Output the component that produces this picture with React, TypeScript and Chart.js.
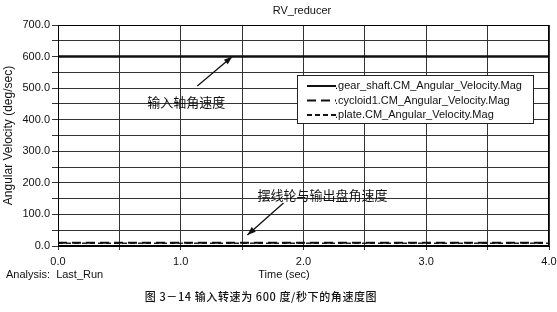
import React, { useEffect, useRef } from "react";
import { Chart, registerables } from "chart.js";

Chart.register(...registerables);

const times = [0, 0.5, 1.0, 1.5, 2.0, 2.5, 3.0, 3.5, 4.0];
const gearShaft = [600, 600, 600, 600, 600, 600, 600, 600, 600];
const cycloid1 = [10, 10, 10, 10, 10, 10, 10, 10, 10];
const plate = [9, 9, 9, 9, 9, 9, 9, 9, 9];
const seriesLabels = [
  ".gear_shaft.CM_Angular_Velocity.Mag",
  ".cycloid1.CM_Angular_Velocity.Mag",
  ".plate.CM_Angular_Velocity.Mag",
];
const chartTitle = "RV_reducer";
const xTitle = "Time (sec)";
const yTitle = "Angular Velocity (deg/sec)";
const analysisText = "Analysis:  Last_Run";
const caption = "图 3－14 输入转速为 600 度/秒下的角速度图";
const annoLabels = ["输入轴角速度", "摆线轮与输出盘角速度"];
const annoText = [
  [1.045, 456],
  [2.155, 161],
];
const annoArrows = [
  [1.135, 507, 1.42, 600],
  [1.837, 136, 1.543, 35],
];

const SANS = '"Liberation Sans", Arial, sans-serif';
const CJK = '"Noto Sans CJK SC", sans-serif';

const overlay = {
  id: "overlay",
  afterDraw(chart: any) {
    const ctx = chart.ctx as CanvasRenderingContext2D;
    const xs = chart.scales.x;
    const ys = chart.scales.y;
    const ca = chart.chartArea;
    ctx.save();
    ctx.strokeStyle = "#000";
    ctx.lineWidth = 1;
    ctx.strokeRect(ca.left + 0.5, ca.top + 0.5, ca.right - ca.left - 1, ca.bottom - ca.top - 1);

    ctx.fillStyle = "#111";
    ctx.font = `11px ${SANS}`;
    ctx.textAlign = "center";
    ctx.textBaseline = "middle";
    ctx.fillText(chartTitle, 302, 11);
    ctx.fillText(xTitle, 284, 275);
    ctx.textAlign = "left";
    ctx.fillText(analysisText, 6, 275);

    ctx.font = `500 11px ${CJK}`;
    (ctx as any).letterSpacing = "0.6px";
    ctx.textAlign = "center";
    ctx.fillText(caption, 261, 297);
    (ctx as any).letterSpacing = "0px";

    ctx.font = `13px ${CJK}`;
    ctx.fillStyle = "#111";
    annoLabels.forEach((t, i) => {
      const px = xs.getPixelForValue(annoText[i][0]);
      const py = ys.getPixelForValue(annoText[i][1]);
      ctx.fillText(t, px, py);
    });
    ctx.strokeStyle = "#111";
    ctx.lineWidth = 1.3;
    annoArrows.forEach((a) => {
      const x1 = xs.getPixelForValue(a[0]);
      const y1 = ys.getPixelForValue(a[1]);
      const x2 = xs.getPixelForValue(a[2]);
      const y2 = ys.getPixelForValue(a[3]);
      ctx.beginPath();
      ctx.moveTo(x1, y1);
      ctx.lineTo(x2, y2);
      ctx.stroke();
      const ang = Math.atan2(y2 - y1, x2 - x1);
      const L = 9;
      const W = 0.35;
      ctx.beginPath();
      ctx.moveTo(x2, y2);
      ctx.lineTo(x2 - L * Math.cos(ang - W), y2 - L * Math.sin(ang - W));
      ctx.lineTo(x2 - L * Math.cos(ang + W), y2 - L * Math.sin(ang + W));
      ctx.closePath();
      ctx.fillStyle = "#111";
      ctx.fill();
    });

    const lx = 297, ly = 75, lw = 236, lh = 48;
    ctx.fillStyle = "#fff";
    ctx.fillRect(lx, ly, lw, lh);
    ctx.strokeStyle = "#222";
    ctx.lineWidth = 1;
    ctx.strokeRect(lx + 0.5, ly + 0.5, lw, lh);
    ctx.font = `11px ${SANS}`;
    ctx.textAlign = "left";
    chart.data.datasets.forEach((ds: any, i: number) => {
      const ry = ly + 11 + i * 14.5;
      ctx.strokeStyle = "#111";
      ctx.lineWidth = 2;
      ctx.setLineDash(ds.borderDash || []);
      ctx.beginPath();
      ctx.moveTo(307, ry);
      ctx.lineTo(336, ry);
      ctx.stroke();
      ctx.setLineDash([]);
      ctx.fillStyle = "#111";
      ctx.fillText(ds.label, 335, ry);
    });
    ctx.restore();
  },
};

export default function App() {
  const ref = useRef<HTMLCanvasElement>(null);
  useEffect(() => {
    document.body.style.margin = "0";
    const mk = (vals: number[]) => times.map((t, i) => ({ x: t, y: vals[i] }));
    const chart = new Chart(ref.current!, {
      type: "line",
      data: {
        datasets: [
          { label: seriesLabels[0], data: mk(gearShaft), borderColor: "#111", borderWidth: 2.5, pointRadius: 0 },
          { label: seriesLabels[1], data: mk(cycloid1), borderColor: "#111", borderWidth: 2, borderDash: [9, 5], pointRadius: 0 },
          { label: seriesLabels[2], data: mk(plate), borderColor: "#222", borderWidth: 1.5, borderDash: [5, 3], pointRadius: 0 },
        ],
      },
      options: {
        animation: false,
        responsive: false,
        layout: { padding: { top: 25, right: 8, left: 0, bottom: 0 } },
        plugins: { legend: { display: false }, tooltip: { enabled: false }, title: { display: false } },
        scales: {
          x: {
            type: "linear",
            min: 0,
            max: 4,
            border: { color: "#000" },
            grid: { color: "#333", lineWidth: 1, tickLength: 4 },
            ticks: {
              stepSize: 0.5,
              autoSkip: false,
              maxRotation: 0,
              color: "#111",
              font: { family: SANS, size: 11 },
              padding: 5,
              callback: (v: any) => (Number(v) % 1 === 0 ? Number(v).toFixed(1) : ""),
            },
            afterFit: (s: any) => { s.height = 66; s.paddingRight = 0; s.paddingLeft = 0; },
          },
          y: {
            min: 0,
            max: 700,
            border: { color: "#000" },
            grid: { color: "#333", lineWidth: 1, tickLength: 6 },
            ticks: {
              stepSize: 50,
              autoSkip: false,
              color: "#111",
              font: { family: SANS, size: 11 },
              padding: 2,
              callback: (v: any) => (Number(v) % 100 === 0 ? Number(v).toFixed(1) : ""),
            },
            title: { display: true, text: yTitle, color: "#111", font: { family: SANS, size: 12 }, padding: { top: 1, bottom: 0 } },
            afterFit: (s: any) => { s.width = 58; s.paddingTop = 0; s.paddingBottom = 0; },
          },
        },
      },
      plugins: [overlay],
    });
    return () => chart.destroy();
  }, []);
  return (
    <div style={{ position: "absolute", left: 0, top: 0, width: 557, height: 312, background: "#fff" }}>
      <canvas ref={ref} width={557} height={312} style={{ width: 557, height: 312 }} />
    </div>
  );
}
